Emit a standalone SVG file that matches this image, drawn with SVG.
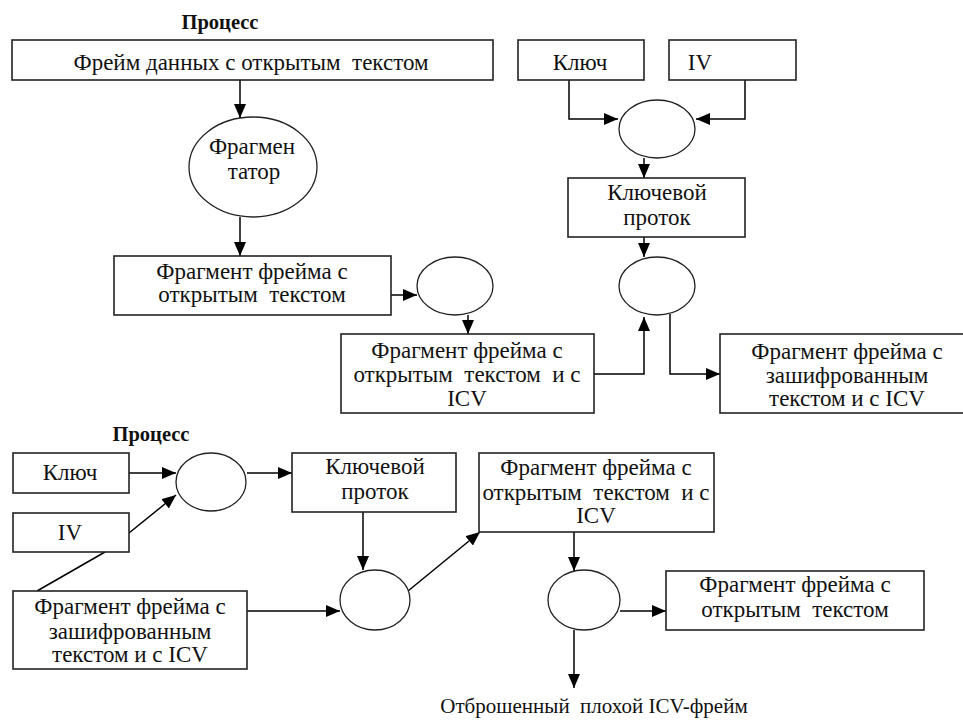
<svg xmlns="http://www.w3.org/2000/svg" width="963" height="720" viewBox="0 0 963 720">
<style>
.box{fill:#fff;stroke:#222;stroke-width:1.6}
.el{fill:#fff;stroke:#222;stroke-width:1.3}
.t{font-family:"Liberation Serif","Times New Roman",serif;font-size:23px;fill:#111;text-anchor:middle}
.h{font-family:"Liberation Serif","Times New Roman",serif;font-size:20.5px;font-weight:bold;fill:#111;text-anchor:middle}
.c{fill:none;stroke:#000;stroke-width:1.5}
.a{marker-end:url(#ah)}
</style>
<defs>
<marker id="ah" markerUnits="userSpaceOnUse" markerWidth="14" markerHeight="12" viewBox="0 0 14 12" refX="14" refY="6" orient="auto">
<path d="M0,0 L14,6 L0,12 Z" fill="#000"/>
</marker>
</defs>
<rect width="963" height="720" fill="#fff"/>
<text class="h" x="220" y="29">Процесс</text>
<text class="h" x="151" y="441">Процесс</text>
<g id="connectors">
<path class="c a" d="M240,80 V118"/>
<path class="c a" d="M240,217 V256"/>
<path class="c a" d="M391,295 H417"/>
<path class="c a" d="M468,315 V334"/>
<path class="c a" d="M594,374 H644 V317"/>
<path class="c a" d="M569,80 V119 H618"/>
<path class="c a" d="M745,80 V119 H696"/>
<path class="c a" d="M644,158 V178"/>
<path class="c a" d="M644,237 V257"/>
<path class="c a" d="M670,314 V374 H720"/>
<path class="c a" d="M129,473 H176"/>
<path class="c" d="M37,591 L105,552"/>
<path class="c a" d="M129,533 L176,495"/>
<path class="c a" d="M247,473 H292"/>
<path class="c a" d="M363,512 V570"/>
<path class="c a" d="M247,611 H340"/>
<path class="c a" d="M408,591 L480,532"/>
<path class="c a" d="M574,532 V571"/>
<path class="c a" d="M620,611 H666"/>
<path class="c a" d="M574,630 V688"/>
</g>
<g id="n-frame">
<rect class="box" x="12" y="40" width="481" height="40"/>
<text class="t" x="251" y="70" xml:space="preserve">Фрейм данных с открытым  текстом</text>
</g>
<g id="n-fragmentator">
<ellipse class="el" cx="253" cy="167" rx="64" ry="50"/>
<text class="t" x="252" y="154">Фрагмен</text>
<text class="t" x="254" y="179">татор</text>
</g>
<g id="n-frag-open">
<rect class="box" x="114" y="256" width="277" height="59"/>
<text class="t" x="252" y="279">Фрагмент фрейма с</text>
<text class="t" x="252" y="302" xml:space="preserve">открытым  текстом</text>
</g>
<g id="n-ell-icv">
<ellipse class="el" cx="455" cy="286" rx="38" ry="29"/>
</g>
<g id="n-frag-open-icv">
<rect class="box" x="341" y="334" width="253" height="79"/>
<text class="t" x="467" y="358">Фрагмент фрейма с</text>
<text class="t" x="467" y="382" xml:space="preserve">открытым  текстом  и с</text>
<text class="t" x="467" y="406">ICV</text>
</g>
<g id="n-key">
<rect class="box" x="518" y="40" width="126" height="40"/>
<text class="t" x="580" y="70">Ключ</text>
</g>
<g id="n-iv">
<rect class="box" x="669" y="40" width="127" height="40"/>
<text class="t" x="700" y="70">IV</text>
</g>
<g id="n-ell-rc4">
<ellipse class="el" cx="657" cy="129" rx="38" ry="29"/>
</g>
<g id="n-keystream">
<rect class="box" x="568" y="178" width="177" height="59"/>
<text class="t" x="657" y="200">Ключевой</text>
<text class="t" x="657" y="225">проток</text>
</g>
<g id="n-ell-xor">
<ellipse class="el" cx="657" cy="286" rx="38" ry="29"/>
</g>
<g id="n-frag-enc">
<rect class="box" x="720" y="334" width="255" height="79"/>
<text class="t" x="847" y="359">Фрагмент фрейма с</text>
<text class="t" x="847" y="383">зашифрованным</text>
<text class="t" x="847" y="406">текстом и с ICV</text>
</g>
<g id="n-key2">
<rect class="box" x="13" y="453" width="116" height="40"/>
<text class="t" x="70" y="480">Ключ</text>
</g>
<g id="n-iv2">
<rect class="box" x="13" y="513" width="116" height="39"/>
<text class="t" x="70" y="540">IV</text>
</g>
<g id="n-ell-rc4-2">
<ellipse class="el" cx="211" cy="482" rx="35" ry="29"/>
</g>
<g id="n-keystream2">
<rect class="box" x="292" y="453" width="164" height="59"/>
<text class="t" x="375" y="474">Ключевой</text>
<text class="t" x="375" y="499">проток</text>
</g>
<g id="n-frag-enc2">
<rect class="box" x="13" y="591" width="234" height="78"/>
<text class="t" x="130" y="614">Фрагмент фрейма с</text>
<text class="t" x="130" y="639">зашифрованным</text>
<text class="t" x="130" y="662">текстом и с ICV</text>
</g>
<g id="n-ell-xor2">
<ellipse class="el" cx="375" cy="600" rx="35" ry="30"/>
</g>
<g id="n-frag-open-icv2">
<rect class="box" x="479" y="453" width="235" height="79"/>
<text class="t" x="596" y="475">Фрагмент фрейма с</text>
<text class="t" x="596" y="500" xml:space="preserve">открытым  текстом  и с</text>
<text class="t" x="596" y="523">ICV</text>
</g>
<g id="n-ell-check">
<ellipse class="el" cx="584" cy="600" rx="36" ry="30"/>
</g>
<g id="n-frag-open2">
<rect class="box" x="666" y="571" width="258" height="59"/>
<text class="t" x="795" y="592">Фрагмент фрейма с</text>
<text class="t" x="795" y="617" xml:space="preserve">открытым  текстом</text>
</g>
<g id="n-discard">
<text class="t" x="594" y="713" style="font-size:21px" xml:space="preserve">Отброшенный  плохой ICV-фрейм</text>
</g>
</svg>
